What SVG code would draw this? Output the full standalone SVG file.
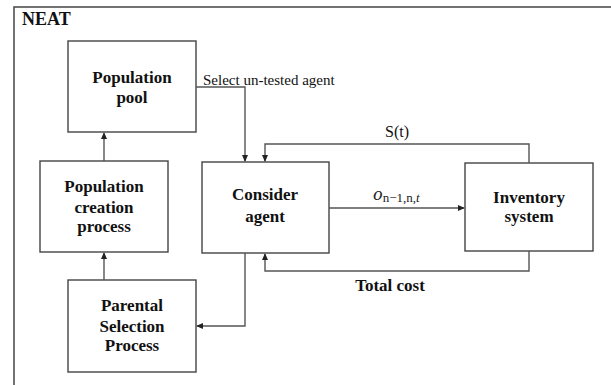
<svg xmlns="http://www.w3.org/2000/svg" width="611" height="385" viewBox="0 0 611 385">
<defs>
<marker id="ah" viewBox="0 0 8 8" refX="7" refY="4" markerWidth="7" markerHeight="7" markerUnits="userSpaceOnUse" orient="auto"><path d="M0,0.5 L8,4 L0,7.5 Z" fill="#222"/></marker>
<style>
.box{fill:#fff;stroke:#444;stroke-width:1.4}
.lbl{font-family:'Liberation Serif','Times New Roman',serif;font-weight:bold;font-size:17px;fill:#111;text-anchor:middle}
.txt{font-family:'Liberation Serif','Times New Roman',serif;font-size:15px;fill:#111}
.con{fill:none;stroke:#555;stroke-width:1.4;marker-end:url(#ah)}
</style>
</defs>
<rect width="611" height="385" fill="#fff"/>
<path d="M14,392 V7 H620" fill="none" stroke="#444" stroke-width="1.5"/>
<text x="22" y="25" class="lbl" style="text-anchor:start;font-size:18px">NEAT</text>
<g id="pool"><rect class="box" x="68" y="41" width="128" height="91"/><text class="lbl" x="132" y="83">Population</text><text class="lbl" x="132" y="103">pool</text></g>
<g id="creation"><rect class="box" x="40" y="161" width="128" height="91"/><text class="lbl" x="104" y="192">Population</text><text class="lbl" x="104" y="213">creation</text><text class="lbl" x="104" y="232">process</text></g>
<g id="parental"><rect class="box" x="68" y="280" width="128" height="92"/><text class="lbl" x="132" y="311">Parental</text><text class="lbl" x="132" y="332">Selection</text><text class="lbl" x="132" y="351">Process</text></g>
<g id="consider"><rect class="box" x="202" y="162" width="127" height="91"/><text class="lbl" x="265" y="200">Consider</text><text class="lbl" x="265" y="222">agent</text></g>
<g id="inventory"><rect class="box" x="465" y="163" width="128" height="88"/><text class="lbl" x="529" y="203">Inventory</text><text class="lbl" x="529" y="222">system</text></g>
<g id="connectors">
<path class="con" d="M196,87 H245 V161"/>
<path class="con" d="M529,163 V144 H265 V161"/>
<path class="con" d="M529,251 V271 H265 V254"/>
<path class="con" d="M329,208 H464"/>
<path class="con" d="M245,253 V326 H197"/>
<path class="con" d="M104,280 V253"/>
<path class="con" d="M104,161 V133"/>
</g>
<text class="txt" x="203" y="85">Select un-tested agent</text>
<text class="txt" x="385" y="137" style="font-size:16px">S(t)</text>
<text class="lbl" x="390" y="291">Total cost</text>
<text x="373" y="200" font-family="'DejaVu Serif',serif" font-size="16" font-style="italic" fill="#222">o<tspan font-style="normal" font-size="13" dy="2" font-family="'Liberation Serif',serif">n−1,n,</tspan><tspan font-size="13" font-family="'Liberation Serif',serif">t</tspan></text>
</svg>
